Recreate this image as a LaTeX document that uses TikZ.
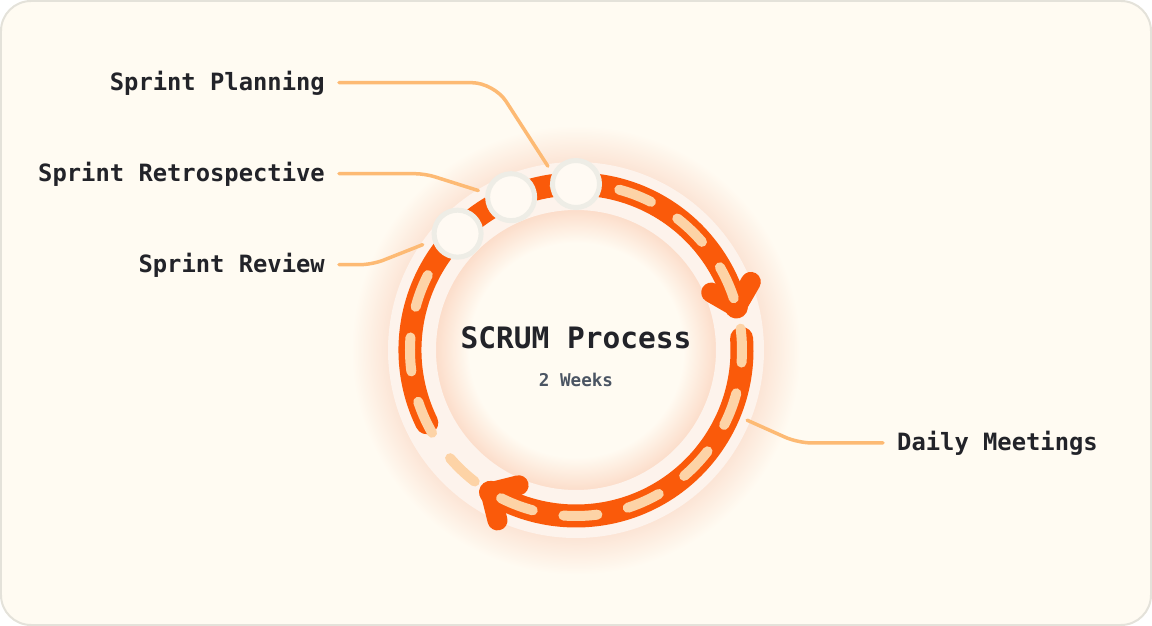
\documentclass[tikz,border=0pt]{standalone}
\usepackage{fontspec}
\setmonofont{DejaVu Sans Mono}
\usetikzlibrary{calc}
\definecolor{bgc}{HTML}{FFFBF2}
\definecolor{panelborder}{HTML}{E4E2DA}
\definecolor{orangec}{HTML}{FA5A0A}
\definecolor{dashc}{HTML}{FDD3A6}
\definecolor{connc}{HTML}{FDBA74}
\definecolor{palec}{HTML}{FDF3EC}
\definecolor{glowin}{HTML}{FCDDCA}
\definecolor{glowout}{HTML}{FCE5D6}
\definecolor{milefill}{HTML}{FFFAF3}
\definecolor{mileborder}{HTML}{EEEDE6}
\definecolor{textc}{HTML}{222329}
\definecolor{subc}{HTML}{4B5563}
\pgfdeclareradialshading{ringglow}{\pgfpoint{0bp}{0bp}}{color(0bp)=(bgc); color(10.3bp)=(bgc); color(13.5bp)=(glowin); color(18.1bp)=(glowout); color(21.6bp)=(bgc); color(50bp)=(bgc)}
\begin{document}
\begin{tikzpicture}[x=1pt,y=1pt,
  panel/.style={draw=panelborder, fill=bgc, line width=2pt, rounded corners=30pt},
  palering/.style={draw=palec, line width=48pt},
  band/.style={draw=orangec, line width=23pt, line cap=round},
  chev/.style={draw=orangec, line width=20pt, line cap=round, line join=round},
  dashring/.style={draw=dashc, line width=10pt, line cap=round, dash pattern=on 34pt off 31.19pt, dash phase=21.4pt},
  mile/.style={circle, minimum size=47pt, inner sep=0pt, fill=milefill, draw=mileborder, line width=5pt},
  conn/.style={draw=connc, line width=3.5pt, line cap=round},
  lbl/.style={font=\ttfamily\bfseries\fontsize{23.8}{28}\selectfont, text=textc, inner xsep=14pt, inner ysep=0pt, text height=20pt, text depth=4pt},
  title/.style={font=\ttfamily\bfseries\fontsize{29.5}{34}\selectfont, text=textc, inner sep=0pt},
  subtitle/.style={font=\ttfamily\bfseries\fontsize{17.6}{20}\selectfont, text=subc, inner sep=0pt}
]
\useasboundingbox (-576,-276) rectangle (576,350);
\draw[panel] (-575,-275) rectangle (575,349);
\shade[shading=ringglow] (0,0) circle[radius=260];
\draw[palering] (0,0) circle[radius=164];

% labels
\node[lbl, anchor=base east] (planlbl) at (-237,259.3) {Sprint Planning};
\node[lbl, anchor=base east] (retrolbl) at (-237,168.3) {Sprint Retrospective};
\node[lbl, anchor=base east] (reviewlbl) at (-237,77.3) {Sprint Review};
\node[lbl, anchor=base west] (dailylbl) at (307,-101) {Daily Meetings};

% connector points
\coordinate (plancorner) at (-82,267.3);
\coordinate (planend) at (98.7:186);
\coordinate (retrocorner) at (-151,176.3);
\coordinate (retroend) at (121.5:187);
\coordinate (reviewcorner) at (-204,85.3);
\coordinate (reviewend) at (145.5:186);
\coordinate (dailyend) at (-22.3:185);
\coordinate (dailycorner) at (222,-93);

\draw[conn, rounded corners=22pt] (planlbl.east) -- (plancorner) -- (planend);
\draw[conn, rounded corners=10pt] (retrolbl.east) -- (retrocorner) -- (retroend);
\draw[conn, rounded corners=12pt] (reviewlbl.east) -- (reviewcorner) -- (reviewend);
\draw[conn, rounded corners=14pt] (dailyend) -- (dailycorner) -- (dailylbl.west);

% orange arcs
\draw[band] (206:166) arc[start angle=206, end angle=15, radius=166];
\draw[band] (4:166) arc[start angle=4, end angle=-121, radius=166];
\coordinate (v1) at (15:166);
\coordinate (v2) at (239:166);
\draw[chev] ($(v1)+(60:29)$) -- (v1) -- ($(v1)+(150:29)$);
\draw[chev] ($(v2)+(284:29)$) -- (v2) -- ($(v2)+(14:29)$);

% dashes
\draw[dashring] (90:166) arc[start angle=90, end angle=-270, radius=166];

% milestones
\node[mile] (mreview) at (135.5:166) {};
\node[mile] (mretro) at (113:166) {};
\node[mile] (mplan) at (90:166) {};

% center text
\node[title, anchor=base] (ttl) at (0,1) {SCRUM Process};
\node[subtitle, anchor=base] (sub) at (0,-37) {2 Weeks};
\end{tikzpicture}
\end{document}
